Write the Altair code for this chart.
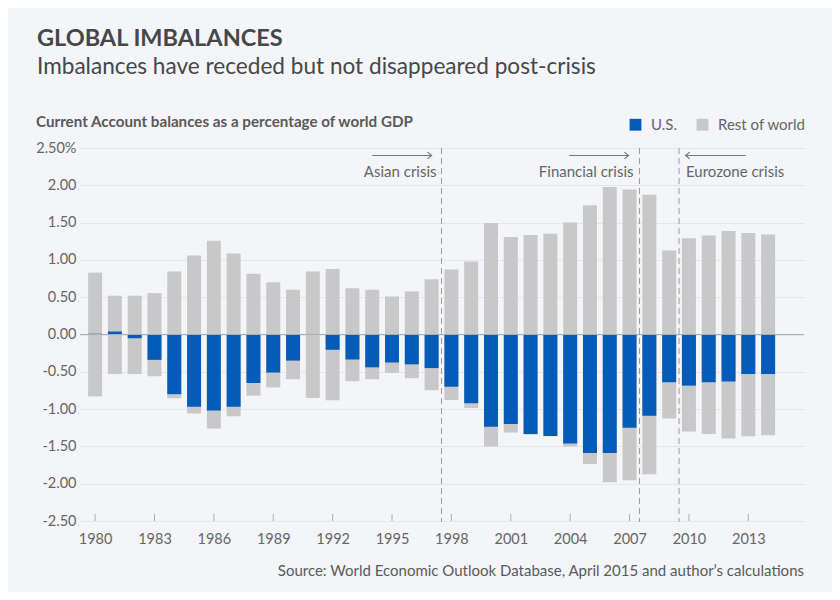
import altair as alt
import pandas as pd

# ---------------- data ----------------
years = list(range(1980, 2015))
us_balance = [0.01, 0.04, -0.05, -0.34, -0.80, -0.97, -1.02, -0.97, -0.65, -0.51, -0.35, 0.003,
              -0.205, -0.335, -0.44, -0.375, -0.40, -0.45, -0.70, -0.92, -1.235, -1.20, -1.335, -1.36,
              -1.46, -1.59, -1.59, -1.25, -1.09, -0.64, -0.685, -0.64, -0.63, -0.53, -0.53]
row_surplus = [0.83, 0.52, 0.52, 0.555, 0.845, 1.06, 1.257, 1.087, 0.814, 0.70, 0.60, 0.845,
               0.877, 0.62, 0.60, 0.51, 0.577, 0.74, 0.872, 0.98, 1.494, 1.306, 1.333, 1.35,
               1.503, 1.731, 1.977, 1.945, 1.874, 1.127, 1.29, 1.328, 1.386, 1.36, 1.342]
deficit_total = [-0.83, -0.53, -0.53, -0.56, -0.855, -1.06, -1.26, -1.096, -0.82, -0.71, -0.60, -0.85,
                 -0.88, -0.626, -0.60, -0.514, -0.586, -0.747, -0.877, -0.984, -1.50, -1.315, -1.34, -1.365,
                 -1.503, -1.735, -1.98, -1.955, -1.874, -1.127, -1.30, -1.333, -1.395, -1.364, -1.35]

series_names = ["U.S.", "Rest of world"]
series_colors = ["#055CB8", "#C9C8C8"]

tick_years = list(range(1980, 2014, 3))
y_ticks = [-2.5, -2.0, -1.5, -1.0, -0.5, 0.0, 0.5, 1.0, 1.5, 2.0, 2.5]

crisis_lines = [1997.5, 2007.5, 2009.5]
crisis_labels = ["Asian crisis", "Financial crisis", "Eurozone crisis"]
crisis_label_x = [1997.25, 2007.2, 2009.85]
crisis_label_align = ["right", "right", "left"]
arrow_start = [1994.0, 2003.95, 2012.87]
arrow_end = [1997.0, 2006.95, 2009.83]
arrow_dir = ["right", "right", "left"]

title_text = "GLOBAL IMBALANCES"
subtitle_text = "Imbalances have receded but not disappeared post-crisis"
axis_title_text = "Current Account balances as a percentage of world GDP"
source_text = "Source: World Economic Outlook Database, April 2015 and author\u2019s calculations"

# ---------------- tables ----------------
gray_df = pd.DataFrame({
    "year": years + years,
    "value": row_surplus + deficit_total,
    "series": ["Rest of world"] * (2 * len(years)),
})
blue_df = pd.DataFrame({"year": years, "value": us_balance, "series": ["U.S."] * len(years)})
lines_df = pd.DataFrame({"x": crisis_lines})
labels_df = pd.DataFrame({"label": crisis_labels, "x": crisis_label_x, "align": crisis_label_align})
arrows_df = pd.DataFrame({"x1": arrow_start, "x2": arrow_end, "dir": arrow_dir})
ticks_df = pd.DataFrame({"year": tick_years})
zero_df = pd.DataFrame({"y": [0.0]})

X_DOMAIN = [1979.49, 2015.56]
xscale = alt.Scale(domain=X_DOMAIN, nice=False, zero=False)
yscale = alt.Scale(domain=[-2.5, 2.5], nice=False)

label_expr = ("datum.value == 2.5 ? '2.50%' : (datum.value < 0 ? '-' + format(-datum.value, '.2f') "
              ": format(datum.value, '.2f'))")

color_scale = alt.Scale(domain=series_names, range=series_colors)
legend = alt.Legend(
    title=None, orient="none", legendX=548, legendY=-31, direction="horizontal",
    symbolType="square", symbolSize=140, symbolStrokeWidth=0, symbolOpacity=1,
    labelFontSize=15, labelColor="#666666", labelOffset=8, columnPadding=18,
)

gray_bars = alt.Chart(gray_df).mark_bar(size=14).encode(
    x=alt.X("year:Q", scale=xscale,
            axis=alt.Axis(values=tick_years, tickCount=len(tick_years) + 1, format="d", title=None,
                          grid=False, domain=False, ticks=False, labelFontSize=14.5,
                          labelColor="#666666", labelPadding=11, labelOverlap=False)),
    y=alt.Y("value:Q", scale=yscale, stack=None,
            axis=alt.Axis(values=y_ticks, tickCount=len(y_ticks) + 1, labelExpr=label_expr,
                          title=None, grid=True, gridColor="#E3E6EB", gridWidth=1, domain=False,
                          ticks=False, labelFontSize=14.5, labelColor="#666666", labelPadding=4,
                          labelOverlap=False, labelFlush=False)),
    color=alt.Color("series:N", scale=color_scale, legend=legend),
)

blue_bars = alt.Chart(blue_df).mark_bar(size=14).encode(
    x=alt.X("year:Q", scale=xscale),
    y=alt.Y("value:Q", scale=yscale, stack=None),
    color=alt.Color("series:N", scale=color_scale, legend=legend),
)

zero_rule = alt.Chart(zero_df).mark_rule(color="#A9AEB4", strokeWidth=1).encode(
    y=alt.Y("y:Q", scale=yscale)
)

x_ticks = alt.Chart(ticks_df).mark_rule(color="#A9AEB4", strokeWidth=1).encode(
    x=alt.X("year:Q", scale=xscale),
    y=alt.value(366), y2=alt.value(373),
)

crisis_rules = alt.Chart(lines_df).mark_rule(color="#9A9A9A", strokeWidth=1, strokeDash=[6, 4]).encode(
    x=alt.X("x:Q", scale=xscale),
    y=alt.value(0), y2=alt.value(374),
)

crisis_text_right = alt.Chart(labels_df[labels_df["align"] == "right"]).mark_text(
    fontSize=15, color="#666666", baseline="middle", align="right").encode(
    x=alt.X("x:Q", scale=xscale), y=alt.value(23.5), text="label:N")
crisis_text_left = alt.Chart(labels_df[labels_df["align"] == "left"]).mark_text(
    fontSize=15, color="#666666", baseline="middle", align="left").encode(
    x=alt.X("x:Q", scale=xscale), y=alt.value(23.5), text="label:N")

arrow_lines = alt.Chart(arrows_df).mark_rule(color="#777777", strokeWidth=1.2).encode(
    x=alt.X("x1:Q", scale=xscale), x2="x2:Q", y=alt.value(7.5),
)
arrow_heads = alt.Chart(arrows_df).mark_point(filled=False, color="#777777", strokeWidth=1.2,
                                              size=70, opacity=1).encode(
    x=alt.X("x2:Q", scale=xscale), y=alt.value(7.5),
    shape=alt.Shape("dir:N", legend=None,
                    scale=alt.Scale(domain=["right", "left"],
                                    range=["M-1,-0.8L0,0L-1,0.8", "M1,-0.8L0,0L1,0.8"])),
)


def text_layer(txt, x, y, size, weight, color, align="left"):
    return alt.Chart(pd.DataFrame({"t": [txt]})).mark_text(
        fontSize=size, fontWeight=weight, color=color, align=align, baseline="alphabetic"
    ).encode(x=alt.value(x), y=alt.value(y), text="t:N")


title_layer = text_layer(title_text, -43, -102, 23.5, "bold", "#474747")
subtitle_layer = text_layer(subtitle_text, -43, -74, 22.6, "normal", "#474747")
axis_title_layer = text_layer(axis_title_text, -44, -21, 15.2, "bold", "#5A5A5A")
source_layer = text_layer(source_text, 724, 428, 15, "normal", "#5A5A5A", align="right")

chart = alt.layer(
    gray_bars, blue_bars, zero_rule, x_ticks, crisis_rules,
    crisis_text_right, crisis_text_left, arrow_lines, arrow_heads,
    title_layer, subtitle_layer, axis_title_layer, source_layer,
).resolve_scale(color="shared").properties(
    width=724, height=373,
    autosize=alt.AutoSizeParams(type="none"),
    padding={"left": 72, "top": 140, "right": 28, "bottom": 71},
    background="#F3F5F8",
).configure(font="Lato").configure_view(stroke=None)

chart.save("out.html", embed_options={"renderer": "svg", "actions": False})
